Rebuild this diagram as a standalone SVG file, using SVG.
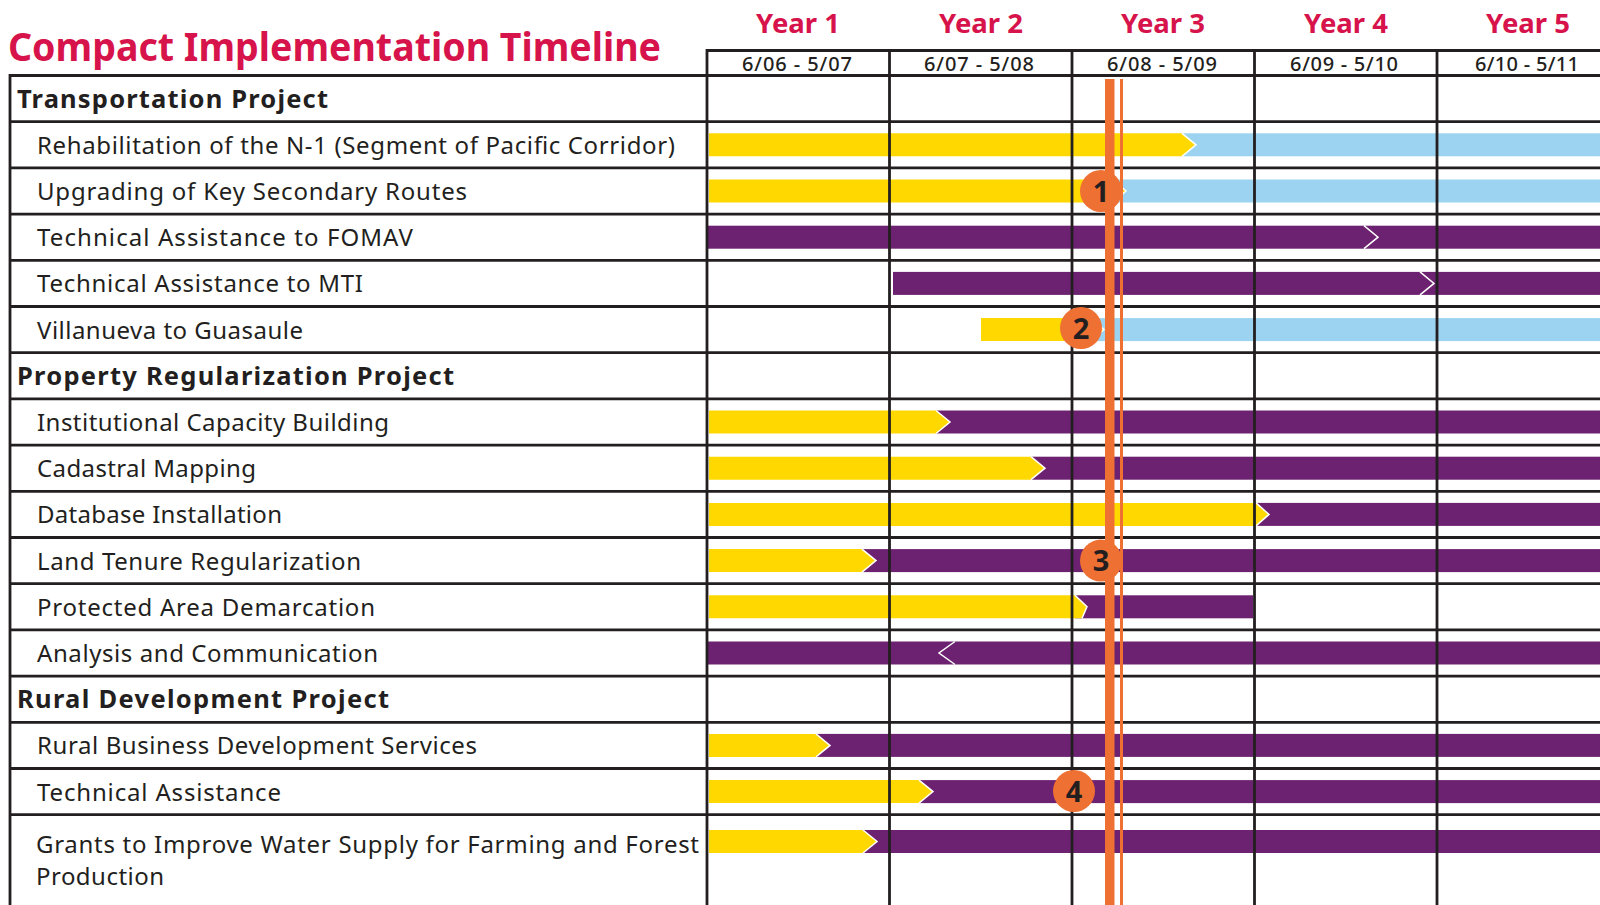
<svg xmlns="http://www.w3.org/2000/svg" width="1600" height="905" viewBox="0 0 1600 905">
<style>
.title{font-family:"Noto Sans","Liberation Sans",Arial,sans-serif;font-weight:700;fill:#D7134B}
.year{font-family:"Noto Sans","Liberation Sans",Arial,sans-serif;font-weight:700;font-size:27.5px;fill:#D7134B;text-anchor:middle}
.date{font-family:"Noto Sans","Liberation Sans",Arial,sans-serif;font-size:20px;font-weight:500;fill:#231F20;text-anchor:middle}
.sec{font-family:"Noto Sans","Liberation Sans",Arial,sans-serif;font-weight:700;font-size:25.5px;fill:#231F20}
.item{font-family:"Noto Sans","Liberation Sans",Arial,sans-serif;font-size:24px;fill:#231F20}
.grid{stroke:#231F20;stroke-width:2.8;fill:none}
.y{fill:#FFD800}
.b{fill:#9BD3F0}
.p{fill:#6C2270}
.chev{fill:none;stroke:#FFFFFF;stroke-width:1.5}
.ms{fill:#EF7033}
.num{font-family:"Noto Sans","Liberation Sans",Arial,sans-serif;font-weight:700;font-size:29px;fill:#231F20;text-anchor:middle}
</style>

<!-- Title and header -->
<g id="title">
<text class="title" x="8" y="61" font-size="38.5" textLength="653" lengthAdjust="spacingAndGlyphs">Compact Implementation Timeline</text>
</g>
<g id="years">
<text class="year" x="798" y="33">Year 1</text>
<text class="year" x="981" y="33">Year 2</text>
<text class="year" x="1163" y="33">Year 3</text>
<text class="year" x="1346" y="33">Year 4</text>
<text class="year" x="1528" y="33">Year 5</text>
<text class="date" x="797" y="71" textLength="110" lengthAdjust="spacing">6/06 - 5/07</text>
<text class="date" x="979" y="71" textLength="110" lengthAdjust="spacing">6/07 - 5/08</text>
<text class="date" x="1162" y="71" textLength="110" lengthAdjust="spacing">6/08 - 5/09</text>
<text class="date" x="1344" y="71" textLength="108" lengthAdjust="spacing">6/09 - 5/10</text>
<text class="date" x="1527" y="71" textLength="104" lengthAdjust="spacing">6/10 - 5/11</text>
</g>

<!-- Bars -->
<g id="bars">
<g id="row-rehabilitation">
<rect class="b" x="1182" y="133.3" width="418" height="23"/>
<polygon class="y" points="709,133.3 1182,133.3 1196,144.8 1182,156.3 709,156.3"/>
<polyline class="chev" points="1182,133.3 1196,144.8 1182,156.3"/>
</g>
<g id="row-upgrading">
<rect class="b" x="1113" y="179.5" width="487" height="23"/>
<polygon class="y" points="709,179.5 1113,179.5 1126,191 1113,202.5 709,202.5"/>
<polyline class="chev" points="1113,179.5 1126,191 1113,202.5"/>
</g>
<g id="row-fomav">
<rect class="p" x="708" y="225.7" width="892" height="23"/>
<polyline class="chev" points="1364,225.7 1378,237.2 1364,248.7"/>
</g>
<g id="row-mti">
<rect class="p" x="893" y="271.9" width="707" height="23"/>
<polyline class="chev" points="1420,271.9 1434,283.4 1420,294.9"/>
</g>
<g id="row-villanueva">
<rect class="b" x="1091" y="318.1" width="509" height="23"/>
<polygon class="y" points="981,318.1 1091,318.1 1104,329.6 1091,341.1 981,341.1"/>
<polyline class="chev" points="1091,318.1 1104,329.6 1091,341.1"/>
</g>
<g id="row-institutional">
<rect class="p" x="936" y="410.5" width="664" height="23"/>
<polygon class="y" points="709,410.5 936,410.5 950,422 936,433.5 709,433.5"/>
<polyline class="chev" points="936,410.5 950,422 936,433.5"/>
</g>
<g id="row-cadastral">
<rect class="p" x="1031" y="456.7" width="569" height="23"/>
<polygon class="y" points="709,456.7 1031,456.7 1045,468.2 1031,479.7 709,479.7"/>
<polyline class="chev" points="1031,456.7 1045,468.2 1031,479.7"/>
</g>
<g id="row-database">
<rect class="p" x="1256" y="502.9" width="344" height="23"/>
<polygon class="y" points="709,502.9 1256,502.9 1269,514.4 1256,525.9 709,525.9"/>
<polyline class="chev" points="1256,502.9 1269,514.4 1256,525.9"/>
</g>
<g id="row-landtenure">
<rect class="p" x="862" y="549.1" width="738" height="23"/>
<polygon class="y" points="709,549.1 862,549.1 876,560.6 862,572.1 709,572.1"/>
<polyline class="chev" points="862,549.1 876,560.6 862,572.1"/>
</g>
<g id="row-protected">
<rect class="p" x="1075" y="595.3" width="178" height="23"/>
<polygon class="y" points="709,595.3 1075,595.3 1087,606.8 1082,618.3 709,618.3"/>
<polyline class="chev" points="1075,595.3 1087,606.8 1082,618.3"/>
</g>
<g id="row-analysis">
<rect class="p" x="708" y="641.5" width="892" height="23"/>
<polyline class="chev" points="955,641.5 939,653 955,664.5"/>
</g>
<g id="row-ruralbusiness">
<rect class="p" x="816" y="733.9" width="784" height="23"/>
<polygon class="y" points="709,733.9 816,733.9 830,745.4 816,756.9 709,756.9"/>
<polyline class="chev" points="816,733.9 830,745.4 816,756.9"/>
</g>
<g id="row-techassist">
<rect class="p" x="919" y="780.1" width="681" height="23"/>
<polygon class="y" points="709,780.1 919,780.1 933,791.6 919,803.1 709,803.1"/>
<polyline class="chev" points="919,780.1 933,791.6 919,803.1"/>
</g>
<g id="row-grants">
<rect class="p" x="863" y="830" width="737" height="23"/>
<polygon class="y" points="709,830 863,830 877,841.5 863,853 709,853"/>
<polyline class="chev" points="863,830 877,841.5 863,853"/>
</g>
</g>

<!-- Grid (connectors) -->
<g id="grid">
<line class="grid" x1="707" y1="50.5" x2="1600" y2="50.5"/>
<line class="grid" x1="10" y1="75.5" x2="1600" y2="75.5"/>
<line class="grid" x1="10" y1="121.7" x2="1600" y2="121.7"/>
<line class="grid" x1="10" y1="167.9" x2="1600" y2="167.9"/>
<line class="grid" x1="10" y1="214.1" x2="1600" y2="214.1"/>
<line class="grid" x1="10" y1="260.3" x2="1600" y2="260.3"/>
<line class="grid" x1="10" y1="306.5" x2="1600" y2="306.5"/>
<line class="grid" x1="10" y1="352.7" x2="1600" y2="352.7"/>
<line class="grid" x1="10" y1="398.9" x2="1600" y2="398.9"/>
<line class="grid" x1="10" y1="445.1" x2="1600" y2="445.1"/>
<line class="grid" x1="10" y1="491.3" x2="1600" y2="491.3"/>
<line class="grid" x1="10" y1="537.5" x2="1600" y2="537.5"/>
<line class="grid" x1="10" y1="583.7" x2="1600" y2="583.7"/>
<line class="grid" x1="10" y1="629.9" x2="1600" y2="629.9"/>
<line class="grid" x1="10" y1="676.1" x2="1600" y2="676.1"/>
<line class="grid" x1="10" y1="722.3" x2="1600" y2="722.3"/>
<line class="grid" x1="10" y1="768.5" x2="1600" y2="768.5"/>
<line class="grid" x1="10" y1="814.7" x2="1600" y2="814.7"/>
<line class="grid" x1="10" y1="74.1" x2="10" y2="905"/>
<line class="grid" x1="707" y1="49.1" x2="707" y2="905"/>
<line class="grid" x1="889.5" y1="49.1" x2="889.5" y2="905"/>
<line class="grid" x1="1072" y1="49.1" x2="1072" y2="905"/>
<line class="grid" x1="1254.5" y1="49.1" x2="1254.5" y2="905"/>
<line class="grid" x1="1437" y1="49.1" x2="1437" y2="905"/>
</g>

<!-- Labels -->
<g id="labels">
<text class="sec" x="17" y="107.5" textLength="311" lengthAdjust="spacing">Transportation Project</text>
<text class="item" x="37" y="153.8" textLength="638" lengthAdjust="spacing">Rehabilitation of the N-1 (Segment of Pacific Corridor)</text>
<text class="item" x="37" y="200" textLength="430" lengthAdjust="spacing">Upgrading of Key Secondary Routes</text>
<text class="item" x="37" y="246.2" textLength="376" lengthAdjust="spacing">Technical Assistance to FOMAV</text>
<text class="item" x="37" y="292.4" textLength="326" lengthAdjust="spacing">Technical Assistance to MTI</text>
<text class="item" x="37" y="338.6" textLength="266" lengthAdjust="spacing">Villanueva to Guasaule</text>
<text class="sec" x="17" y="384.8" textLength="437" lengthAdjust="spacing">Property Regularization Project</text>
<text class="item" x="37" y="431" textLength="352" lengthAdjust="spacing">Institutional Capacity Building</text>
<text class="item" x="37" y="477.2" textLength="219" lengthAdjust="spacing">Cadastral Mapping</text>
<text class="item" x="37" y="523.4" textLength="245" lengthAdjust="spacing">Database Installation</text>
<text class="item" x="37" y="569.6" textLength="324" lengthAdjust="spacing">Land Tenure Regularization</text>
<text class="item" x="37" y="615.8" textLength="338" lengthAdjust="spacing">Protected Area Demarcation</text>
<text class="item" x="37" y="662" textLength="341" lengthAdjust="spacing">Analysis and Communication</text>
<text class="sec" x="17" y="708.2" textLength="372" lengthAdjust="spacing">Rural Development Project</text>
<text class="item" x="37" y="754.4" textLength="440" lengthAdjust="spacing">Rural Business Development Services</text>
<text class="item" x="37" y="800.6" textLength="244" lengthAdjust="spacing">Technical Assistance</text>
<text class="item" x="36" y="853" textLength="663" lengthAdjust="spacing">Grants to Improve Water Supply for Farming and Forest</text>
<text class="item" x="36" y="885" textLength="128" lengthAdjust="spacing">Production</text>
</g>

<!-- Milestone line -->
<g id="milestone-line">
<rect class="ms" x="1105" y="79" width="9.5" height="826"/>
<rect class="ms" x="1120" y="79" width="3" height="826"/>
</g>

<!-- Milestone markers -->
<g id="marker-1"><circle class="ms" cx="1101" cy="191" r="21"/><text class="num" x="1101" y="201.5">1</text></g>
<g id="marker-2"><circle class="ms" cx="1081" cy="328" r="21"/><text class="num" x="1081" y="338.5">2</text></g>
<g id="marker-3"><circle class="ms" cx="1101" cy="560.6" r="21"/><text class="num" x="1101" y="571">3</text></g>
<g id="marker-4"><circle class="ms" cx="1074" cy="791" r="21"/><text class="num" x="1074" y="801.5">4</text></g>
</svg>
